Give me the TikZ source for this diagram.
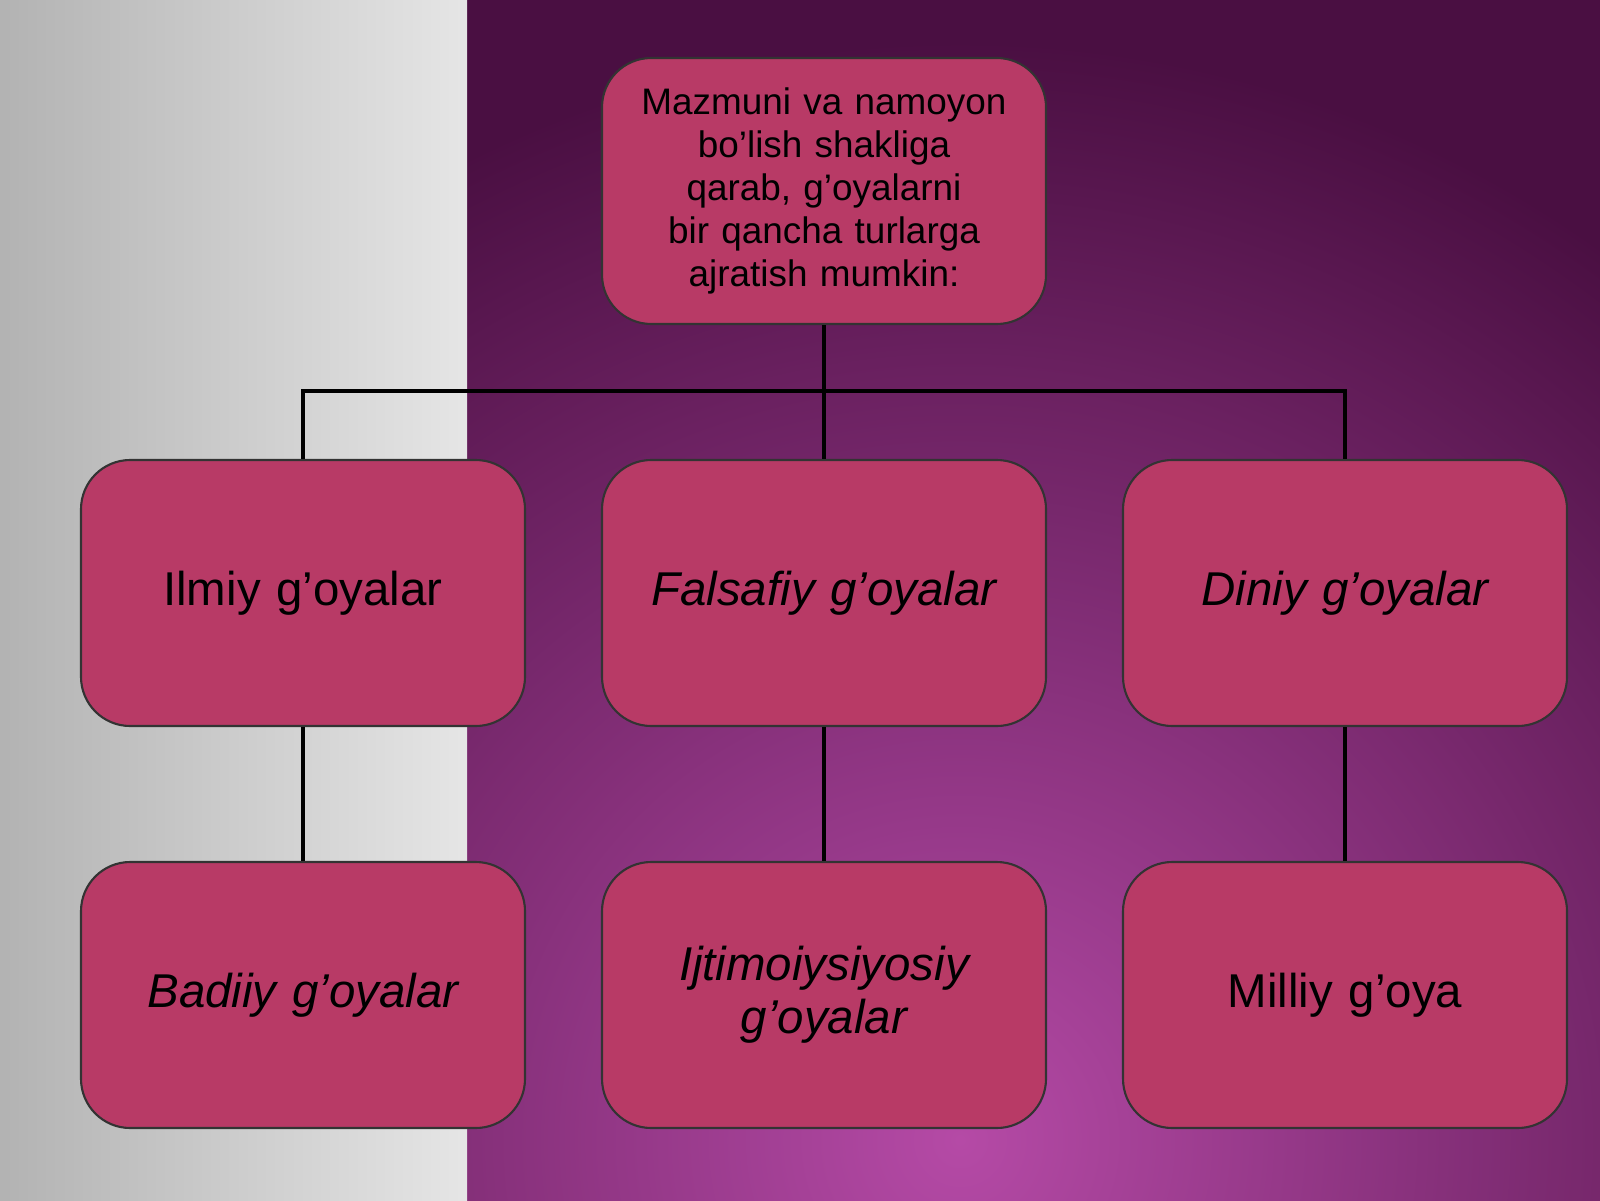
\documentclass[tikz,border=0pt]{standalone}
\usepackage{fontspec}
\setmainfont{Liberation Sans}
\usetikzlibrary{positioning, backgrounds}
\definecolor{boxCol}{HTML}{B83A66}
\definecolor{bgDark}{HTML}{4A0F42}
\definecolor{bgLight}{HTML}{B54AA6}

\begin{document}
\begin{tikzpicture}[
    % Node styles
    topbox/.style={
        rectangle,
        rounded corners=14pt,
        draw=black!80,
        fill=boxCol,
        line width=0.6pt,
        font=\fontsize{10.5}{12.2}\selectfont,
        minimum height=2.66cm,
        minimum width=4.44cm,
        text width=3.95cm,
        align=center
    },
    kindbox/.style={
        topbox,
        text width=4.1cm,
        font=\fontsize{13.5}{15}\selectfont
    },
    link/.style={
        line width=1.1pt,
        draw=black
    }
]

    % ==== BACKGROUND ====
    \useasboundingbox (0,0) rectangle (16,12);
    \begin{scope}
        \clip (4.67,0) rectangle (16,12);
        \fill[bgDark] (4.67,0) rectangle (16,12);
        \shade[inner color=bgLight, outer color=bgDark] (9.6,0.6) circle (11);
    \end{scope}
    \shade[left color=gray!60, right color=gray!20] (0,0) rectangle (4.67,12);

    % ==== NODES ====
    \node[topbox] (root) at (8.24, 10.09) {Mazmuni va namoyon bo’lish shakliga qarab, g’oyalarni bir qancha turlarga ajratish mumkin:};

    \node[kindbox] (ilmiy) at (3.03, 6.07) {Ilmiy g’oyalar};
    \node[kindbox] (falsafiy) at (8.24, 6.07) {\itshape Falsafiy g’oyalar};
    \node[kindbox] (diniy) at (13.45, 6.07) {\itshape Diniy g’oyalar};

    \node[kindbox] (badiiy) at (3.03, 2.05) {\itshape Badiiy g’oyalar};
    \node[kindbox] (ijtimoiy) at (8.24, 2.05) {\itshape Ijtimoiysiyosiy g’oyalar};
    \node[kindbox] (milliy) at (13.45, 2.05) {Milliy g’oya};

    % ==== CONNECTORS ====
    \coordinate (bus) at (8.24, 8.09);
    \draw[link] (root.south) -- (falsafiy.north);
    \draw[link] (ilmiy.north) |- (bus) -| (diniy.north);

    \draw[link] (ilmiy) -- (badiiy);
    \draw[link] (falsafiy) -- (ijtimoiy);
    \draw[link] (diniy) -- (milliy);

\end{tikzpicture}
\end{document}
